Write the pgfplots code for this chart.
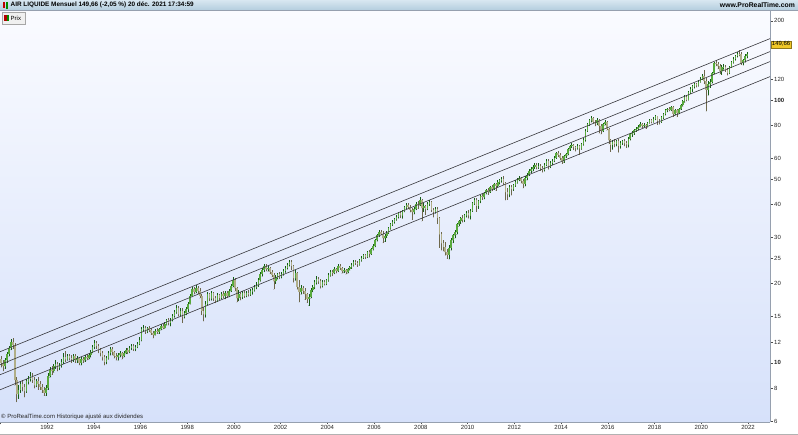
\documentclass[border=0pt]{standalone}
\usepackage{pgfplots}
\pgfplotsset{compat=1.18}
\usepackage{pgfplotstable}
\usepackage{fontspec}
\setmainfont{Liberation Sans}

\definecolor{bgtop}{RGB}{250,251,255}
\definecolor{bgbot}{RGB}{214,225,250}
\definecolor{hdtop}{RGB}{216,231,241}
\definecolor{hdbot}{RGB}{180,206,222}
\definecolor{upbody}{RGB}{88,170,60}
\definecolor{upwick}{RGB}{22,92,22}
\definecolor{dnbody}{RGB}{176,174,136}
\definecolor{dnwick}{RGB}{110,104,76}
\definecolor{chan}{RGB}{55,55,60}
\definecolor{axgray}{RGB}{150,160,175}
\definecolor{gold}{RGB}{240,200,40}

% monthly candles: year, month, open, high, low, close
\pgfplotstableread{
yr mo o h l c
1990 1 10.3 10.6 9.6 10.0
1990 2 10.0 10.2 9.3 9.7
1990 3 9.7 10.4 9.5 10.2
1990 4 10.2 11.0 10.0 10.8
1990 5 10.8 11.6 10.6 11.4
1990 6 11.4 12.3 11.2 12.0
1990 7 12.0 12.4 11.3 11.7
1990 8 11.7 11.9 8.2 8.6
1990 9 8.6 8.8 7.1 7.6
1990 10 7.6 8.2 7.3 7.9
1990 11 7.9 8.5 7.7 8.3
1990 12 8.3 8.6 7.8 8.1
1991 1 8.1 8.3 7.4 7.8
1991 2 7.8 8.7 7.7 8.5
1991 3 8.5 8.9 8.3 8.7
1991 4 8.7 9.2 8.5 8.9
1991 5 8.9 9.1 8.4 8.6
1991 6 8.6 8.8 8.0 8.2
1991 7 8.2 8.7 8.1 8.5
1991 8 8.5 8.8 7.9 8.3
1991 9 8.3 8.5 7.9 8.1
1991 10 8.1 8.3 7.7 7.9
1991 11 7.9 8.1 7.5 7.7
1991 12 7.7 8.2 7.5 8.0
1992 1 8.0 9.1 7.9 8.9
1992 2 8.9 9.6 8.8 9.4
1992 3 9.4 9.7 9.0 9.3
1992 4 9.3 9.9 9.2 9.7
1992 5 9.7 10.2 9.5 9.9
1992 6 9.9 10.1 9.3 9.6
1992 7 9.6 10.0 9.4 9.8
1992 8 9.8 10.3 9.6 10.1
1992 9 10.1 10.9 9.9 10.5
1992 10 10.5 11.1 10.1 10.3
1992 11 10.3 10.8 10.2 10.6
1992 12 10.6 10.8 10.2 10.4
1993 1 10.4 10.7 10.0 10.3
1993 2 10.3 10.8 10.1 10.6
1993 3 10.6 10.8 10.0 10.2
1993 4 10.2 10.6 10.0 10.4
1993 5 10.4 10.5 9.8 10.0
1993 6 10.0 10.5 9.8 10.3
1993 7 10.3 10.5 10.0 10.2
1993 8 10.2 10.7 10.1 10.5
1993 9 10.5 10.8 10.2 10.4
1993 10 10.4 10.9 10.3 10.7
1993 11 10.7 11.2 10.5 11.0
1993 12 11.0 11.7 10.9 11.5
1994 1 11.5 12.2 11.3 11.9
1994 2 11.9 12.1 11.3 11.6
1994 3 11.6 11.8 10.9 11.2
1994 4 11.2 11.4 10.6 10.9
1994 5 10.9 11.1 10.2 10.5
1994 6 10.5 10.7 9.8 10.1
1994 7 10.1 10.6 9.9 10.4
1994 8 10.4 11.1 10.3 10.9
1994 9 10.9 11.5 10.7 11.3
1994 10 11.3 11.5 10.7 11.0
1994 11 11.0 11.1 10.4 10.6
1994 12 10.6 10.9 10.2 10.5
1995 1 10.5 10.9 10.2 10.7
1995 2 10.7 11.1 10.5 10.9
1995 3 10.9 11.0 10.3 10.6
1995 4 10.6 11.1 10.5 10.9
1995 5 10.9 11.4 10.8 11.2
1995 6 11.2 11.4 10.8 11.0
1995 7 11.0 11.6 10.9 11.4
1995 8 11.4 11.8 11.2 11.6
1995 9 11.6 11.8 11.1 11.3
1995 10 11.3 11.7 11.1 11.5
1995 11 11.5 12.0 11.4 11.8
1995 12 11.8 12.5 11.7 12.2
1996 1 12.2 13.7 12.1 13.4
1996 2 13.4 13.9 13.2 13.6
1996 3 13.6 13.8 12.9 13.2
1996 4 13.2 13.7 13.0 13.5
1996 5 13.5 13.8 13.1 13.3
1996 6 13.3 13.5 12.8 13.0
1996 7 13.0 13.2 12.4 12.8
1996 8 12.8 13.4 12.7 13.2
1996 9 13.2 13.5 12.9 13.1
1996 10 13.1 13.6 12.9 13.4
1996 11 13.4 14.0 13.3 13.8
1996 12 13.8 14.1 13.4 13.6
1997 1 13.6 14.3 13.5 14.0
1997 2 14.0 14.7 13.9 14.5
1997 3 14.5 14.8 13.9 14.2
1997 4 14.2 14.8 13.8 14.6
1997 5 14.6 15.3 14.4 15.1
1997 6 15.1 15.9 14.9 15.6
1997 7 15.6 16.6 15.4 16.2
1997 8 16.2 16.4 15.0 15.3
1997 9 15.3 16.1 15.1 15.8
1997 10 15.8 16.2 14.2 15.0
1997 11 15.0 15.7 14.8 15.4
1997 12 15.4 16.3 15.2 16.0
1998 1 16.0 17.1 15.6 16.8
1998 2 16.8 18.2 16.7 17.9
1998 3 17.9 19.4 17.8 19.0
1998 4 19.0 19.5 18.2 18.6
1998 5 18.6 19.8 18.4 19.3
1998 6 19.3 19.6 18.3 18.8
1998 7 18.8 19.2 17.6 18.0
1998 8 18.0 18.2 15.2 15.8
1998 9 15.8 16.3 14.4 15.3
1998 10 15.3 17.2 14.9 16.8
1998 11 16.8 18.6 16.6 18.2
1998 12 18.2 18.5 17.2 17.6
1999 1 17.6 18.8 17.3 18.4
1999 2 18.4 18.6 17.2 17.6
1999 3 17.6 18.0 16.9 17.3
1999 4 17.3 18.4 17.1 18.1
1999 5 18.1 18.3 17.4 17.7
1999 6 17.7 18.6 17.5 18.3
1999 7 18.3 18.7 17.6 17.9
1999 8 17.9 18.8 17.5 18.5
1999 9 18.5 18.8 17.7 18.0
1999 10 18.0 19.1 17.8 18.8
1999 11 18.8 20.0 18.6 19.6
1999 12 19.6 21.2 19.4 20.6
2000 1 20.6 21.0 18.7 19.2
2000 2 19.2 19.4 17.0 17.6
2000 3 17.6 18.9 17.2 18.3
2000 4 18.3 18.6 17.3 17.8
2000 5 17.8 18.7 17.5 18.4
2000 6 18.4 18.8 17.7 18.0
2000 7 18.0 18.8 17.8 18.5
2000 8 18.5 18.9 17.9 18.2
2000 9 18.2 19.1 18.0 18.7
2000 10 18.7 19.3 18.2 18.9
2000 11 18.9 19.7 18.7 19.4
2000 12 19.4 20.2 19.1 19.8
2001 1 19.8 21.0 19.5 20.6
2001 2 20.6 22.1 20.4 21.8
2001 3 21.8 23.0 21.3 22.6
2001 4 22.6 23.8 22.2 23.3
2001 5 23.3 23.7 22.3 22.7
2001 6 22.7 23.4 22.3 22.9
2001 7 22.9 23.2 21.8 22.2
2001 8 22.2 22.5 21.2 21.6
2001 9 21.6 21.9 19.0 20.4
2001 10 20.4 21.5 20.0 21.1
2001 11 21.1 22.0 20.8 21.7
2001 12 21.7 22.1 20.9 21.3
2002 1 21.3 22.2 21.0 21.8
2002 2 21.8 22.7 21.5 22.4
2002 3 22.4 23.4 22.1 23.0
2002 4 23.0 24.0 22.7 23.6
2002 5 23.6 24.6 23.3 24.2
2002 6 24.2 24.5 22.6 23.4
2002 7 23.4 23.6 20.2 21.0
2002 8 21.0 22.5 20.6 22.0
2002 9 22.0 22.2 19.0 19.5
2002 10 19.5 20.6 17.0 18.6
2002 11 18.6 19.8 18.2 19.3
2002 12 19.3 19.6 18.3 18.8
2003 1 18.8 19.3 17.4 18.2
2003 2 18.2 18.5 16.9 17.5
2003 3 17.5 18.3 16.5 17.8
2003 4 17.8 19.3 17.6 18.9
2003 5 18.9 19.8 18.6 19.4
2003 6 19.4 20.6 19.1 20.2
2003 7 20.2 21.3 19.9 20.9
2003 8 20.9 21.2 20.0 20.4
2003 9 20.4 20.8 19.2 19.6
2003 10 19.6 20.6 19.4 20.3
2003 11 20.3 20.6 19.7 20.0
2003 12 20.0 20.9 19.8 20.6
2004 1 20.6 21.9 20.4 21.5
2004 2 21.5 22.6 21.3 22.2
2004 3 22.2 22.6 21.4 22.0
2004 4 22.0 23.1 21.8 22.8
2004 5 22.8 23.0 21.9 22.4
2004 6 22.4 23.8 22.2 23.4
2004 7 23.4 23.7 22.6 23.0
2004 8 23.0 23.2 21.9 22.3
2004 9 22.3 22.9 22.0 22.6
2004 10 22.6 22.8 21.7 22.1
2004 11 22.1 23.0 21.9 22.7
2004 12 22.7 23.4 22.5 23.1
2005 1 23.1 23.9 22.8 23.5
2005 2 23.5 24.5 23.3 24.2
2005 3 24.2 24.6 23.6 24.0
2005 4 24.0 24.3 23.2 23.7
2005 5 23.7 24.9 23.5 24.6
2005 6 24.6 25.5 24.3 25.1
2005 7 25.1 26.0 24.9 25.6
2005 8 25.6 25.9 24.9 25.3
2005 9 25.3 26.7 25.1 26.4
2005 10 26.4 26.8 25.2 26.0
2005 11 26.0 27.4 25.8 27.0
2005 12 27.0 28.2 26.8 27.8
2006 1 27.8 29.7 27.6 29.3
2006 2 29.3 31.0 29.0 30.6
2006 3 30.6 31.9 30.2 31.5
2006 4 31.5 32.1 30.5 31.0
2006 5 31.0 31.6 28.6 29.8
2006 6 29.8 30.8 28.9 30.4
2006 7 30.4 31.6 29.9 31.2
2006 8 31.2 32.9 31.0 32.5
2006 9 32.5 34.0 32.2 33.6
2006 10 33.6 34.9 33.2 34.4
2006 11 34.4 35.7 33.9 35.2
2006 12 35.2 36.5 34.8 36.0
2007 1 36.0 37.6 35.5 37.0
2007 2 37.0 37.9 35.6 36.4
2007 3 36.4 38.2 35.4 37.8
2007 4 37.8 39.5 37.5 39.0
2007 5 39.0 40.5 38.6 39.8
2007 6 39.8 40.4 38.5 39.3
2007 7 39.3 40.0 37.4 38.2
2007 8 38.2 38.8 35.0 37.4
2007 9 37.4 39.2 36.8 38.6
2007 10 38.6 41.0 38.2 40.3
2007 11 40.3 41.2 38.6 40.0
2007 12 40.0 42.6 39.6 41.5
2008 1 41.5 42.0 34.6 38.8
2008 2 38.8 40.4 37.6 39.5
2008 3 39.5 40.0 36.6 38.6
2008 4 38.6 40.8 38.2 40.2
2008 5 40.2 41.6 39.6 40.8
2008 6 40.8 41.2 37.6 38.2
2008 7 38.2 38.8 35.8 37.6
2008 8 37.6 39.0 37.0 38.4
2008 9 38.4 39.0 33.8 35.6
2008 10 35.6 36.0 27.4 30.8
2008 11 30.8 31.4 26.8 28.5
2008 12 28.5 29.4 26.6 27.6
2009 1 27.6 28.8 25.6 26.3
2009 2 26.3 27.2 24.9 25.8
2009 3 25.8 28.0 24.8 27.4
2009 4 27.4 29.8 26.8 29.2
2009 5 29.2 31.0 28.6 30.5
2009 6 30.5 32.0 29.8 31.4
2009 7 31.4 34.0 30.8 33.6
2009 8 33.6 35.0 33.0 34.5
2009 9 34.5 36.0 33.8 35.6
2009 10 35.6 36.4 34.2 35.0
2009 11 35.0 36.8 34.4 36.4
2009 12 36.4 37.8 35.8 37.2
2010 1 37.2 38.2 35.4 36.4
2010 2 36.4 38.4 35.2 37.9
2010 3 37.9 40.9 37.6 40.4
2010 4 40.4 42.4 40.0 41.8
2010 5 41.8 42.2 37.6 39.6
2010 6 39.6 41.8 38.6 41.3
2010 7 41.3 43.6 40.6 43.0
2010 8 43.0 44.0 41.8 42.6
2010 9 42.6 44.8 42.0 44.2
2010 10 44.2 46.0 43.8 45.4
2010 11 45.4 46.2 43.6 44.8
2010 12 44.8 47.2 44.4 46.5
2011 1 46.5 47.4 45.0 46.0
2011 2 46.0 48.4 45.6 47.8
2011 3 47.8 48.4 45.2 47.2
2011 4 47.2 49.4 46.8 48.6
2011 5 48.6 50.2 47.8 49.5
2011 6 49.5 51.0 48.6 50.2
2011 7 50.2 51.2 47.6 48.4
2011 8 48.4 48.8 41.6 44.6
2011 9 44.6 46.2 41.8 43.8
2011 10 43.8 47.4 42.8 46.5
2011 11 46.5 47.6 43.4 45.8
2011 12 45.8 48.0 45.2 47.4
2012 1 47.4 49.6 46.8 48.6
2012 2 48.6 50.6 48.2 49.8
2012 3 49.8 51.2 49.2 50.4
2012 4 50.4 51.0 48.2 49.2
2012 5 49.2 50.0 46.2 48.0
2012 6 48.0 51.2 47.0 50.6
2012 7 50.6 52.8 49.6 52.0
2012 8 52.0 54.6 51.4 53.8
2012 9 53.8 55.6 52.8 54.6
2012 10 54.6 56.8 53.6 55.8
2012 11 55.8 57.6 54.8 56.6
2012 12 56.6 57.8 54.6 55.4
2013 1 55.4 57.4 54.8 56.2
2013 2 56.2 57.0 53.8 55.0
2013 3 55.0 56.0 53.0 54.2
2013 4 54.2 57.6 53.6 56.8
2013 5 56.8 59.6 56.2 58.6
2013 6 58.6 59.4 54.4 56.0
2013 7 56.0 58.6 55.2 57.8
2013 8 57.8 59.8 56.8 58.8
2013 9 58.8 61.4 58.2 60.4
2013 10 60.4 63.6 59.8 62.6
2013 11 62.6 63.8 60.8 61.8
2013 12 61.8 62.6 59.0 60.2
2014 1 60.2 61.0 57.2 58.4
2014 2 58.4 61.8 57.8 61.0
2014 3 61.0 63.0 60.2 62.2
2014 4 62.2 65.6 61.6 64.8
2014 5 64.8 67.6 64.2 66.8
2014 6 66.8 68.4 65.8 67.4
2014 7 67.4 68.2 64.6 66.2
2014 8 66.2 67.0 63.8 65.6
2014 9 65.6 67.8 64.8 66.8
2014 10 66.8 67.6 62.0 65.4
2014 11 65.4 68.8 64.8 68.0
2014 12 68.0 71.4 67.2 70.6
2015 1 70.6 77.4 69.6 76.5
2015 2 76.5 81.6 75.8 80.8
2015 3 80.8 84.6 79.8 83.6
2015 4 83.6 86.8 82.4 85.4
2015 5 85.4 86.2 81.6 82.8
2015 6 82.8 84.2 79.6 81.6
2015 7 81.6 85.2 80.4 84.2
2015 8 84.2 85.0 74.6 79.8
2015 9 79.8 81.0 74.2 76.4
2015 10 76.4 82.0 75.6 81.0
2015 11 81.0 83.8 80.0 82.4
2015 12 82.4 83.0 76.6 77.8
2016 1 77.8 78.4 68.0 70.2
2016 2 70.2 71.2 63.6 67.6
2016 3 67.6 70.6 64.8 69.4
2016 4 69.4 70.8 66.2 68.2
2016 5 68.2 70.6 66.8 69.8
2016 6 69.8 71.0 63.2 67.0
2016 7 67.0 69.6 65.4 68.6
2016 8 68.6 70.4 67.6 69.6
2016 9 69.6 70.8 66.8 68.4
2016 10 68.4 69.6 65.8 67.8
2016 11 67.8 72.0 66.2 71.2
2016 12 71.2 74.8 70.4 74.0
2017 1 74.0 76.0 72.6 74.8
2017 2 74.8 77.4 73.8 76.6
2017 3 76.6 78.8 75.8 77.8
2017 4 77.8 80.2 76.8 79.0
2017 5 79.0 82.2 78.6 81.2
2017 6 81.2 82.0 78.4 79.8
2017 7 79.8 81.6 78.8 80.6
2017 8 80.6 81.2 77.8 79.4
2017 9 79.4 82.8 78.8 82.0
2017 10 82.0 84.6 81.4 83.6
2017 11 83.6 84.8 81.6 82.8
2017 12 82.8 85.8 82.2 84.8
2018 1 84.8 88.0 84.0 86.6
2018 2 86.6 87.0 80.6 83.4
2018 3 83.4 84.8 80.8 82.6
2018 4 82.6 86.6 82.0 85.8
2018 5 85.8 89.4 85.0 88.6
2018 6 88.6 92.4 87.6 91.4
2018 7 91.4 93.6 90.0 92.6
2018 8 92.6 94.0 90.6 91.8
2018 9 91.8 95.2 91.0 94.2
2018 10 94.2 95.0 86.4 88.6
2018 11 88.6 92.4 87.8 91.4
2018 12 91.4 92.6 86.2 89.2
2019 1 89.2 93.6 88.4 92.6
2019 2 92.6 96.4 91.8 95.4
2019 3 95.4 99.8 94.6 98.8
2019 4 98.8 104.0 98.0 102.6
2019 5 102.6 104.2 99.0 100.4
2019 6 100.4 108.0 99.8 106.8
2019 7 106.8 111.6 105.6 110.2
2019 8 110.2 114.0 107.4 112.6
2019 9 112.6 116.2 111.0 114.8
2019 10 114.8 116.4 111.8 113.6
2019 11 113.6 118.6 112.8 117.4
2019 12 117.4 122.0 116.6 120.6
2020 1 120.6 125.2 119.6 123.4
2020 2 123.4 130.4 115.2 118.0
2020 3 118.0 121.0 90.6 109.6
2020 4 109.6 117.6 104.2 114.8
2020 5 114.8 119.8 111.4 117.2
2020 6 117.2 128.0 115.6 126.4
2020 7 126.4 140.0 125.2 138.6
2020 8 138.6 141.6 134.6 136.8
2020 9 136.8 139.0 131.2 134.2
2020 10 134.2 137.0 125.4 128.6
2020 11 128.6 135.6 124.8 133.4
2020 12 133.4 136.8 130.6 134.0
2021 1 134.0 136.0 128.2 130.4
2021 2 130.4 132.6 124.2 126.8
2021 3 126.8 135.0 125.8 133.6
2021 4 133.6 141.0 132.8 139.2
2021 5 139.2 145.2 137.8 143.8
2021 6 143.8 148.8 141.6 147.6
2021 7 147.6 152.0 145.6 150.2
2021 8 150.2 154.6 146.8 149.0
2021 9 149.0 151.6 136.2 138.6
2021 10 138.6 143.6 135.8 141.4
2021 11 141.4 149.8 139.0 146.8
2021 12 146.8 152.8 144.4 149.66
}\prices

\pgfplotsset{
  candle/.style={only marks, mark=*, mark size=0.01pt,
    mark options={draw=none, fill=none}, forget plot,
    error bars/y dir=plus, error bars/y explicit, error bars/error mark=none},
}

\begin{document}
\begin{tikzpicture}
\path[use as bounding box] (0pt,-13pt) rectangle (798pt,422pt);
\begin{axis}[
  at={(0pt,0pt)}, anchor=south west,
  width=770pt, height=412pt, scale only axis,
  xmin=1989.99, xmax=2022.94,
  ymode=log, ymin=5.95, ymax=220,
  axis x line*=bottom, axis y line*=right,
  axis line style={-, draw=axgray, line width=0.6pt},
  axis background/.style={top color=bgtop, bottom color=bgbot},
  xtick={1990,1992,...,2022},
  xticklabels={,1992,1994,1996,1998,2000,2002,2004,2006,2008,2010,2012,2014,2016,2018,2020,2022},
  ytick={6,8,10,12,15,20,25,30,40,50,60,80,100,120,200},
  yticklabels={6,8,\textbf{10},12,15,20,25,30,40,50,60,80,\textbf{100},120,200},
  yminorticks=false, xminorticks=false,
  tick align=outside, major tick length=2.5pt,
  tick style={draw=black!70, line width=0.4pt},
  ticklabel style={font=\fontsize{6}{7}\selectfont, text=black!85},
  xticklabel style={inner sep=1pt},
  yticklabel style={inner sep=1.5pt},
]
% wicks: all candles, then the rising ones again in green
\addplot[candle, color=dnwick, error bars/error bar style={line width=0.6pt}]
  table[x expr=\thisrow{yr}+(\thisrow{mo}-0.5)/12, y=l,
        y error plus expr=\thisrow{h}-\thisrow{l}] {\prices};
\addplot[candle, color=upwick, error bars/error bar style={line width=0.6pt},
  restrict expr to domain={\thisrow{c}-\thisrow{o}}{0:1000}]
  table[x expr=\thisrow{yr}+(\thisrow{mo}-0.5)/12, y=l,
        y error plus expr=\thisrow{h}-\thisrow{l}] {\prices};
% bodies: all candles pale, then the rising ones green
\addplot[candle, color=dnbody, error bars/error bar style={line width=1.5pt}]
  table[x expr=\thisrow{yr}+(\thisrow{mo}-0.5)/12, y expr={min(\thisrow{o},\thisrow{c})},
        y error plus expr={abs(\thisrow{o}-\thisrow{c})}] {\prices};
\addplot[candle, color=upbody, error bars/error bar style={line width=1.5pt},
  restrict expr to domain={\thisrow{c}-\thisrow{o}}{0:1000}]
  table[x expr=\thisrow{yr}+(\thisrow{mo}-0.5)/12, y=o,
        y error plus expr=\thisrow{c}-\thisrow{o}] {\prices};
% channel lines
\addplot[chan, line width=0.6pt, forget plot] coordinates {(1989.99,11.01) (2022.94,171.2)};
\addplot[chan, line width=0.6pt, forget plot] coordinates {(1989.99,9.83) (2022.94,152.8)};
\addplot[chan, line width=0.6pt, forget plot] coordinates {(1989.99,9.00) (2022.94,140.0)};
\addplot[chan, line width=0.6pt, forget plot] coordinates {(1989.99,7.89) (2022.94,122.7)};
\coordinate (lastp) at (axis cs:2022.94,163);
\end{axis}
% header bar
\shade[top color=hdtop, bottom color=hdbot] (0pt,412pt) rectangle (798pt,422pt);
\draw[axgray, line width=0.4pt] (0pt,412pt) -- (798pt,412pt);
\fill[red!75!black] (2.5pt,414pt) rectangle (4.5pt,420pt);
\fill[green!55!black] (5.5pt,413pt) rectangle (7.5pt,419.5pt);
\node[anchor=west, inner sep=0pt, font=\fontsize{6.4}{7}\selectfont\bfseries]
  at (10.5pt,417pt) {AIR LIQUIDE Mensuel 149,66 (-2,05 \%) 20 déc. 2021 17:34:59};
\node[anchor=east, inner sep=0pt, font=\fontsize{6.8}{7}\selectfont\bfseries]
  at (795pt,417pt) {www.ProRealTime.com};
% legend box
\filldraw[fill=black!6, draw=black!35, line width=0.4pt] (2pt,398pt) rectangle (25pt,409.5pt);
\fill[red!70!black] (4pt,401pt) rectangle (6.5pt,406.5pt);
\fill[green!55!black] (6.5pt,401pt) rectangle (9pt,406.5pt);
\node[anchor=west, inner sep=0pt, font=\fontsize{6}{7}\selectfont] at (10.5pt,403.8pt) {Prix};
% price label
\node[anchor=west, fill=gold, draw=gold!60!black, line width=0.3pt, inner sep=1pt,
  font=\fontsize{6}{7}\selectfont, xshift=0.8pt] at (lastp) {149,66};
% footnote
\node[anchor=west, inner sep=0pt, font=\fontsize{6}{7}\selectfont, text=black!85]
  at (1pt,5pt) {© ProRealTime.com Historique ajusté aux dividendes};
\draw[black!30, line width=0.4pt] (0pt,-12.5pt) -- (798pt,-12.5pt);
\end{tikzpicture}
\end{document}
